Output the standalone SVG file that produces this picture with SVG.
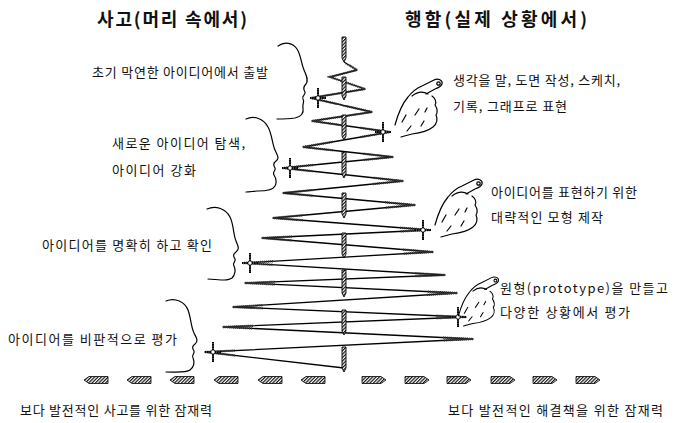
<svg xmlns="http://www.w3.org/2000/svg" xmlns:xlink="http://www.w3.org/1999/xlink" width="697" height="423" viewBox="0 0 697 423">
  <style>
    .txt { font-family: "Noto Sans CJK KR", "Noto Sans", sans-serif; font-size: 13px; fill: #111; }
    .title { font-size: 18px; font-weight: bold; }
    .ink { fill: none; stroke: #000; stroke-width: 1.2; stroke-linecap: round; stroke-linejoin: round; }
    .zig { fill: none; stroke: #000; stroke-width: 1.3; stroke-linejoin: round; }
    .pencil { fill: none; stroke: #333; stroke-width: 2.3; stroke-dasharray: 1.2 0.8; }
    .rod { fill: url(#hatch); stroke: #000; stroke-width: 0.9; }
    .arrow { fill: url(#hatch); stroke: #000; stroke-width: 0.8; }
  </style>
  <defs>
    <pattern id="hatch" width="2.4" height="2.4" patternUnits="userSpaceOnUse" patternTransform="rotate(45)">
      <rect width="2.4" height="2.4" fill="#fff"/>
      <line x1="0.6" y1="0" x2="0.6" y2="2.4" stroke="#000" stroke-width="1.1"/>
    </pattern>
    <!-- tips of the zigzag drawn with a pencil texture -->
    <clipPath id="tips">
      <rect x="327" y="64" width="32" height="14"/>
      <rect x="335" y="82" width="32" height="14"/>
      <rect x="342" y="105" width="32" height="14"/>
      <rect x="360" y="125" width="32" height="14"/>
      <rect x="363" y="150" width="32" height="14"/>
      <rect x="373" y="174" width="32" height="14"/>
      <rect x="385" y="198" width="32" height="14"/>
      <rect x="400" y="223" width="32" height="14"/>
      <rect x="403" y="245" width="32" height="14"/>
      <rect x="415" y="268" width="32" height="14"/>
      <rect x="427" y="286" width="32" height="14"/>
      <rect x="436" y="310" width="32" height="14"/>
      <rect x="443" y="332" width="32" height="14"/>
      <rect x="328" y="70" width="32" height="14"/>
      <rect x="309" y="91" width="32" height="14"/>
      <rect x="310" y="114" width="32" height="14"/>
      <rect x="301" y="140" width="32" height="14"/>
      <rect x="281" y="161" width="32" height="14"/>
      <rect x="281" y="186" width="32" height="14"/>
      <rect x="271" y="211" width="32" height="14"/>
      <rect x="260" y="231" width="32" height="14"/>
      <rect x="241" y="256" width="32" height="14"/>
      <rect x="243" y="276" width="32" height="14"/>
      <rect x="231" y="300" width="32" height="14"/>
      <rect x="221" y="320" width="32" height="14"/>
      <rect x="203" y="345" width="32" height="14"/>
    </clipPath>
    <g id="cross">
      <path d="M0,-10 V10 M-8,0 H8" stroke="#000" stroke-width="2" fill="none"/>
      <path d="M0,-9 V9 M-7,0 H7" stroke="#fff" stroke-width="0.6" stroke-dasharray="1 1.5" fill="none"/>
      <circle r="2.2" fill="#fff" stroke="#000" stroke-width="0.9"/>
    </g>
    <!-- pointing hand, fingertip at the origin -->
    <g id="hand" class="ink">
      <path d="M-43,41 C-40,30 -36,20 -30,13 C-26,8 -21,4 -16,2 L-4,-4 C0,-6 5,-4 4,0 C3,3 0,4 -3,5 L-12,10"/>
      <circle cx="0.5" cy="-0.5" r="1.7"/>
      <path d="M-26,12 C-21,8 -15,7 -10,10"/>
      <path d="M-6,12 C-3,14 -1,18 -3,21 C-1,24 0,28 -2,31 C0,35 -1,40 -5,43 C-10,47 -18,49 -26,50 C-30,51 -34,52 -37,53"/>
      <path d="M-36,38 L-32,31 M-31,47 L-27,42 M-23,31 L-19,25 M-17,42 L-14,37 M-13,28 L-11,24"/>
    </g>
    <path id="arrowL" class="arrow" d="M0,0 L5,-3.5 H24 V3.5 H5 Z"/>
    <path id="arrowR" class="arrow" d="M0,-3.5 H19 L24,0 L19,3.5 H0 Z"/>
  </defs>

  <rect width="697" height="423" fill="#fff"/>

  <!-- column headings -->
  <text class="txt title" x="97" y="26" textLength="150" lengthAdjust="spacing">사고(머리 속에서)</text>
  <text class="txt title" x="405" y="26" textLength="182" lengthAdjust="spacing">행함(실제 상황에서)</text>

  <!-- thinking side: head profiles -->
  <g id="head1"><path class="ink" d="M278,46 C285,41 293,43 297,49 C301,55 301,63 304,70 C306,75 309,80 306,84 C303,87 303,89 305,92 C306,95 301,96 303,99 C305,102 302,104 303,108 C304,113 301,117 295,118 C288,119 283,119 277,119"/>
    <text class="txt" x="92" y="77" textLength="176" lengthAdjust="spacing">초기 막연한 아이디어에서 출발</text></g>
  <g id="head2"><path class="ink" d="M246,119 C254,115 264,119 268,127 C272,134 272,143 275,150 C277,155 280,158 276,161 C273,163 273,165 275,168 C276,171 272,172 274,175 C276,178 277,182 275,186 C273,190 266,191 258,191 C254,191 250,192 246,192"/>
    <text class="txt" x="112" y="148" textLength="133" lengthAdjust="spacing">새로운 아이디어 탐색,</text>
    <text class="txt" x="112" y="175" textLength="84" lengthAdjust="spacing">아이디어 강화</text></g>
  <g id="head3"><path class="ink" d="M207,209 C216,205 226,209 230,217 C234,225 233,234 236,241 C238,246 240,249 236,252 C233,254 233,256 235,259 C236,262 232,263 234,266 C236,270 235,275 232,278 C228,281 220,280 208,279"/>
    <text class="txt" x="42" y="250" textLength="170" lengthAdjust="spacing">아이디어를 명확히 하고 확인</text></g>
  <g id="head4"><path class="ink" d="M166,301 C175,297 185,302 188,310 C191,318 191,327 194,333 C196,337 199,341 195,344 C192,346 192,348 194,351 C195,354 191,355 193,358 C195,362 194,367 190,370 C186,373 177,372 166,372"/>
    <text class="txt" x="8" y="344" textLength="169" lengthAdjust="spacing">아이디어를 비판적으로 평가</text></g>

  <!-- widening zigzag between thinking and doing -->
  <g id="connectors">
    <polyline id="zigzag" class="zig" points="344,62 357,70 330,77 365,89 311,98 372,112 312,121 390,132 303,147 393,157 283,168 403,181 283,193 415,205 273,218 430,230 262,238 433,252 243,263 445,275 245,283 457,293 233,307 466,317 223,327 473,339 205,352 344,368"/>
    <polyline class="pencil" clip-path="url(#tips)" points="344,62 357,70 330,77 365,89 311,98 372,112 312,121 390,132 303,147 393,157 283,168 403,181 283,193 415,205 273,218 430,230 262,238 433,252 243,263 445,275 245,283 457,293 233,307 466,317 223,327 473,339 205,352 344,368"/>
  </g>

  <!-- central axis rods -->
  <g id="axis">
    <path class="rod" d="M342,37 H346 V58 L344,62 L342,58 Z"/>
    <path class="rod" d="M342,77 H346 V96 L344,100 L342,96 Z"/>
    <path class="rod" d="M342,115 H346 V136 L344,140 L342,136 Z"/>
    <path class="rod" d="M342,152 H346 V174 L344,178 L342,174 Z"/>
    <path class="rod" d="M342,193 H346 V214 L344,218 L342,214 Z"/>
    <path class="rod" d="M342,233 H346 V254 L344,258 L342,254 Z"/>
    <path class="rod" d="M342,270 H346 V293 L344,297 L342,293 Z"/>
    <path class="rod" d="M342,310 H346 V331 L344,335 L342,331 Z"/>
    <path class="rod" d="M342,347 H346 V368 L344,372 L342,368 Z"/>
  </g>

  <!-- crossing points -->
  <g id="crosses">
    <use href="#cross" x="318" y="98"/>
    <use href="#cross" x="383" y="132"/>
    <use href="#cross" x="290" y="168"/>
    <use href="#cross" x="423" y="230"/>
    <use href="#cross" x="250" y="263"/>
    <use href="#cross" x="458" y="317"/>
    <use href="#cross" x="213" y="352"/>
  </g>

  <!-- doing side: hands -->
  <g id="hand1"><use href="#hand" x="438" y="84"/>
    <text class="txt" x="453" y="85" textLength="167" lengthAdjust="spacing">생각을 말, 도면 작성, 스케치,</text>
    <text class="txt" x="453" y="111" textLength="114" lengthAdjust="spacing">기록, 그래프로 표현</text></g>
  <g id="hand2"><use href="#hand" x="478" y="184"/>
    <text class="txt" x="491" y="197" textLength="146" lengthAdjust="spacing">아이디어를 표현하기 위한</text>
    <text class="txt" x="491" y="222" textLength="112" lengthAdjust="spacing">대략적인 모형 제작</text></g>
  <g id="hand3"><use href="#hand" transform="translate(495,281) scale(0.85)"/>
    <text class="txt" x="500" y="293" textLength="168" lengthAdjust="spacing">원형(prototype)을 만들고</text>
    <text class="txt" x="500" y="317" textLength="130" lengthAdjust="spacing">다양한 상황에서 평가</text></g>

  <!-- potential arrows -->
  <g id="arrows">
    <use href="#arrowL" x="84" y="380"/>
    <use href="#arrowL" x="127" y="380"/>
    <use href="#arrowL" x="170" y="380"/>
    <use href="#arrowL" x="214" y="380"/>
    <use href="#arrowL" x="258" y="380"/>
    <use href="#arrowL" x="301" y="380"/>
    <use href="#arrowR" x="362" y="380"/>
    <use href="#arrowR" x="405" y="380"/>
    <use href="#arrowR" x="447" y="380"/>
    <use href="#arrowR" x="491" y="380"/>
    <use href="#arrowR" x="533" y="380"/>
    <use href="#arrowR" x="576" y="380"/>
  </g>
  <text class="txt" x="20" y="415" textLength="192" lengthAdjust="spacing">보다 발전적인 사고를 위한 잠재력</text>
  <text class="txt" x="448" y="415" textLength="215" lengthAdjust="spacing">보다 발전적인 해결책을 위한 잠재력</text>
</svg>
